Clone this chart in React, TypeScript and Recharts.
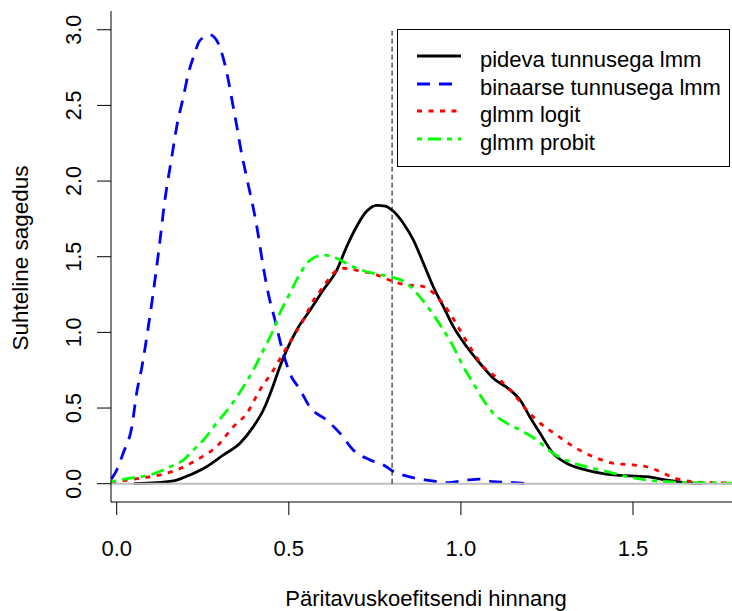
import React from 'react';
import { LineChart, Line, XAxis, YAxis, ReferenceLine } from 'recharts';

if (typeof document !== 'undefined') {
  document.body.style.margin = '0';
}

// ---- data ----
const seriesNames = ['pideva tunnusega lmm', 'binaarse tunnusega lmm', 'glmm logit', 'glmm probit'];

const blackX = [0.05, 0.116, 0.174, 0.213, 0.261, 0.31, 0.358, 0.397, 0.426, 0.45, 0.474, 0.494, 0.523, 0.562, 0.6, 0.639, 0.668, 0.697, 0.726, 0.755, 0.78, 0.804, 0.833, 0.862, 0.891, 0.92, 0.949, 0.978, 1.017, 1.055, 1.094, 1.143, 1.172, 1.2, 1.23, 1.268, 1.307, 1.365, 1.443, 1.54, 1.598, 1.656, 1.7];
const blackY = [0, 0.007, 0.024, 0.058, 0.112, 0.19, 0.267, 0.377, 0.487, 0.62, 0.773, 0.884, 1.016, 1.148, 1.28, 1.41, 1.566, 1.7, 1.8, 1.84, 1.835, 1.8, 1.72, 1.61, 1.457, 1.3, 1.17, 1.038, 0.905, 0.796, 0.697, 0.62, 0.553, 0.443, 0.333, 0.2, 0.135, 0.09, 0.058, 0.046, 0.024, 0.007, 0];

const blueX = [-0.016, 0.0, 0.019, 0.044, 0.058, 0.073, 0.092, 0.106, 0.121, 0.14, 0.16, 0.176, 0.194, 0.208, 0.223, 0.242, 0.271, 0.295, 0.31, 0.324, 0.337, 0.349, 0.363, 0.378, 0.407, 0.426, 0.44, 0.46, 0.484, 0.503, 0.533, 0.56, 0.61, 0.649, 0.687, 0.736, 0.775, 0.804, 0.843, 0.9, 0.959, 1.017, 1.055, 1.094, 1.152, 1.19];
const blueY = [0.03, 0.09, 0.203, 0.377, 0.6, 0.77, 1.04, 1.26, 1.52, 1.875, 2.16, 2.38, 2.56, 2.71, 2.82, 2.93, 2.966, 2.91, 2.81, 2.67, 2.51, 2.36, 2.18, 2.02, 1.7, 1.43, 1.26, 1.08, 0.86, 0.73, 0.62, 0.51, 0.42, 0.333, 0.223, 0.157, 0.124, 0.08, 0.05, 0.024, 0.007, 0.024, 0.03, 0.013, 0.007, 0];

const redX = [-0.016, 0.068, 0.126, 0.184, 0.232, 0.29, 0.339, 0.378, 0.416, 0.455, 0.484, 0.513, 0.542, 0.571, 0.6, 0.629, 0.658, 0.697, 0.755, 0.804, 0.843, 0.881, 0.91, 0.939, 0.968, 0.997, 1.026, 1.065, 1.114, 1.152, 1.191, 1.23, 1.278, 1.327, 1.385, 1.443, 1.501, 1.54, 1.578, 1.617, 1.675, 1.733, 1.79];
const redY = [0.007, 0.036, 0.058, 0.1, 0.157, 0.245, 0.377, 0.465, 0.62, 0.75, 0.862, 0.972, 1.08, 1.21, 1.3, 1.39, 1.424, 1.41, 1.38, 1.335, 1.313, 1.307, 1.28, 1.214, 1.126, 1.016, 0.905, 0.773, 0.685, 0.597, 0.487, 0.4, 0.322, 0.245, 0.178, 0.135, 0.124, 0.112, 0.08, 0.04, 0.013, 0.007, 0.005];

const greenX = [-0.016, 0.039, 0.097, 0.155, 0.194, 0.223, 0.252, 0.29, 0.329, 0.368, 0.397, 0.426, 0.455, 0.474, 0.503, 0.533, 0.562, 0.6, 0.629, 0.658, 0.697, 0.746, 0.794, 0.843, 0.872, 0.91, 0.949, 0.978, 1.007, 1.036, 1.065, 1.094, 1.133, 1.172, 1.22, 1.268, 1.317, 1.365, 1.424, 1.482, 1.54, 1.598, 1.685, 1.79];
const greenY = [0.013, 0.036, 0.058, 0.112, 0.157, 0.223, 0.289, 0.4, 0.509, 0.641, 0.751, 0.884, 1.016, 1.126, 1.258, 1.39, 1.478, 1.511, 1.5, 1.467, 1.424, 1.39, 1.368, 1.324, 1.258, 1.148, 1.016, 0.905, 0.773, 0.664, 0.553, 0.465, 0.4, 0.355, 0.289, 0.2, 0.145, 0.112, 0.08, 0.046, 0.024, 0.013, 0.007, 0.003];

const xTicks = [0, 0.5, 1.0, 1.5];
const yTicks = [0, 0.5, 1.0, 1.5, 2.0, 2.5, 3.0];
const refX = 0.8;
const refTop = 3.0;

const xLabel = 'Päritavuskoefitsendi hinnang';
const yLabel = 'Suhteline sagedus';

// ---- helpers ----
const toPoints = (xs: number[], ys: number[]) => xs.map((x, i) => ({ x, y: ys[i] }));

const blackData = toPoints(blackX, blackY);
const blueData = toPoints(blueX, blueY);
const redData = toPoints(redX, redY);
const greenData = toPoints(greenX, greenY);

const FONT = '"Liberation Sans", Arial, Helvetica, sans-serif';
const XMIN = -0.0166;
const XMAX = 1.7992;
const YMIN = -0.121;
const YMAX = 3.124;

const styles = [
  { color: '#000000', dash: undefined as string | undefined, width: 2.8 },
  { color: '#0000ff', dash: '13 9', width: 2.8 },
  { color: '#ff0000', dash: '5 6.5', width: 2.8 },
  { color: '#00ff00', dash: '5 6 13 6', width: 2.8 },
];

const XTick = (props: any) => {
  const { x, y, payload } = props;
  return (
    <text x={x} y={y + 39} textAnchor="middle" fontFamily={FONT} fontSize={22} fill="#000">
      {Number(payload.value).toFixed(1)}
    </text>
  );
};

const YTick = (props: any) => {
  const { x, y, payload } = props;
  const bx = x - 14;
  return (
    <text x={bx} y={y} textAnchor="middle" fontFamily={FONT} fontSize={21.5} fill="#000" transform={`rotate(-90, ${bx}, ${y})`}>
      {Number(payload.value).toFixed(1)}
    </text>
  );
};

export default function App() {
  const rows = [56, 84, 111, 139];
  return (
    <div style={{ width: 732, height: 611, overflow: 'hidden', position: 'relative', background: '#fff' }}>
      <LineChart width={740} height={611} margin={{ top: 11, right: 4, bottom: 0, left: 0 }}>
        <XAxis
          type="number"
          dataKey="x"
          domain={[XMIN, XMAX]}
          ticks={xTicks}
          interval={0}
          allowDataOverflow
          height={109}
          tickSize={13}
          axisLine={{ stroke: '#000', strokeWidth: 1 }}
          tickLine={{ stroke: '#000', strokeWidth: 1 }}
          tick={<XTick />}
        />
        <XAxis
          xAxisId="top"
          orientation="top"
          type="number"
          dataKey="x"
          domain={[XMIN, XMAX]}
          allowDataOverflow
          height={0}
          tick={false}
          tickLine={false}
          axisLine={{ stroke: '#000', strokeWidth: 1 }}
        />
        <YAxis
          type="number"
          dataKey="y"
          domain={[YMIN, YMAX]}
          ticks={yTicks}
          interval={0}
          allowDataOverflow
          width={111}
          tickSize={14}
          axisLine={{ stroke: '#000', strokeWidth: 1 }}
          tickLine={{ stroke: '#000', strokeWidth: 1 }}
          tick={<YTick />}
        />
        <Line data={blackData} dataKey="y" type="monotone" stroke={styles[0].color} strokeWidth={styles[0].width} dot={false} activeDot={false} isAnimationActive={false} />
        <Line data={blueData} dataKey="y" type="monotone" stroke={styles[1].color} strokeWidth={styles[1].width} strokeDasharray={styles[1].dash} dot={false} activeDot={false} isAnimationActive={false} />
        <Line data={redData} dataKey="y" type="monotone" stroke={styles[2].color} strokeWidth={styles[2].width} strokeDasharray={styles[2].dash} dot={false} activeDot={false} isAnimationActive={false} />
        <Line data={greenData} dataKey="y" type="monotone" stroke={styles[3].color} strokeWidth={styles[3].width} strokeDasharray={styles[3].dash} dot={false} activeDot={false} isAnimationActive={false} />
        <ReferenceLine y={0} stroke="#bebebe" strokeWidth={2} />
        <ReferenceLine segment={[{ x: refX, y: 0 }, { x: refX, y: refTop }]} stroke="#000" strokeWidth={1} strokeDasharray="5 3" />
      </LineChart>
      <svg width={732} height={611} style={{ position: 'absolute', left: 0, top: 0, pointerEvents: 'none' }}>
        <text x={426} y={606} textAnchor="middle" fontFamily={FONT} fontSize={22} fill="#000">{xLabel}</text>
        <text x={28} y={258} textAnchor="middle" fontFamily={FONT} fontSize={22.5} fill="#000" transform="rotate(-90, 28, 258)">{yLabel}</text>
        <rect x={397.5} y={29.5} width={332} height={137} fill="#fff" stroke="#000" strokeWidth={1} />
        {seriesNames.map((name, i) => (
          <g key={name}>
            <line x1={417} x2={461} y1={rows[i]} y2={rows[i]} stroke={styles[i].color} strokeWidth={styles[i].width} strokeDasharray={styles[i].dash} />
            <text x={480} y={rows[i] + 10.5} fontFamily={FONT} fontSize={22} fill="#000">{name}</text>
          </g>
        ))}
      </svg>
    </div>
  );
}
